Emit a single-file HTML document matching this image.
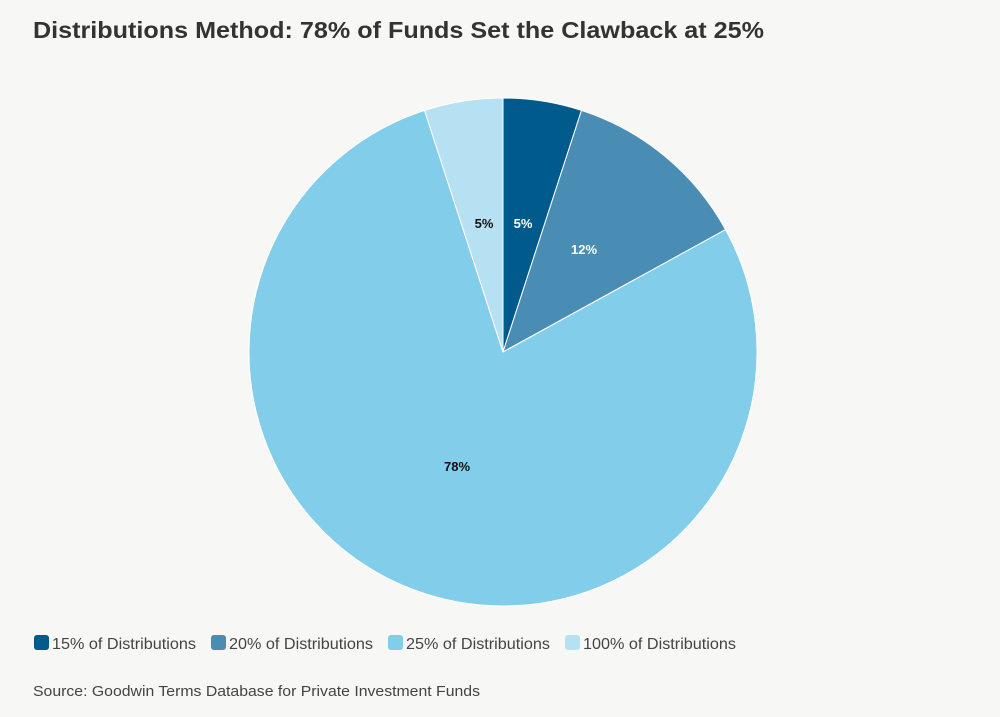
<!DOCTYPE html>
<html><head><meta charset="utf-8"><style>
html,body{margin:0;padding:0;background:#f7f7f5;}
svg{display:block;font-family:"Liberation Sans",sans-serif;}
</style></head><body>
<svg width="1000" height="717" viewBox="0 0 1000 717">
<rect width="1000" height="717" fill="#f7f7f5"/>
<text x="33" y="38" font-size="23" font-weight="bold" fill="#333" textLength="731" lengthAdjust="spacingAndGlyphs">Distributions Method: 78% of Funds Set the Clawback at 25%</text>
<g stroke="#ffffff" stroke-width="1">
<path d="M503,352 L503,98 A254,254 0 0 1 581.5,110.4 Z" fill="#005a8c"/>
<path d="M503,352 L581.5,110.4 A254,254 0 0 1 725.6,229.6 Z" fill="#4a8db4"/>
<path d="M503,352 L725.6,229.6 A254,254 0 1 1 424.5,110.4 Z" fill="#82cdea"/>
<path d="M503,352 L424.5,110.4 A254,254 0 0 1 503,98 Z" fill="#b6e1f2"/>
</g>
<g font-size="13" font-weight="bold" text-anchor="middle">
<text x="523" y="228" fill="#fff">5%</text>
<text x="584" y="254" fill="#fff">12%</text>
<text x="457" y="471" fill="#111">78%</text>
<text x="484" y="228" fill="#111">5%</text>
</g>
<g font-size="16" fill="#444">
<rect x="34" y="635" width="15" height="15" rx="3" fill="#005a8c"/>
<text x="52" y="649" textLength="144" lengthAdjust="spacingAndGlyphs">15% of Distributions</text>
<rect x="211" y="635" width="15" height="15" rx="3" fill="#4a8db4"/>
<text x="229" y="649" textLength="144" lengthAdjust="spacingAndGlyphs">20% of Distributions</text>
<rect x="388" y="635" width="15" height="15" rx="3" fill="#82cdea"/>
<text x="406" y="649" textLength="144" lengthAdjust="spacingAndGlyphs">25% of Distributions</text>
<rect x="565" y="635" width="15" height="15" rx="3" fill="#b6e1f2"/>
<text x="583" y="649" textLength="153" lengthAdjust="spacingAndGlyphs">100% of Distributions</text>
<text x="33" y="696" font-size="15" textLength="447" lengthAdjust="spacingAndGlyphs">Source: Goodwin Terms Database for Private Investment Funds</text>
</g>
</svg>
</body></html>
